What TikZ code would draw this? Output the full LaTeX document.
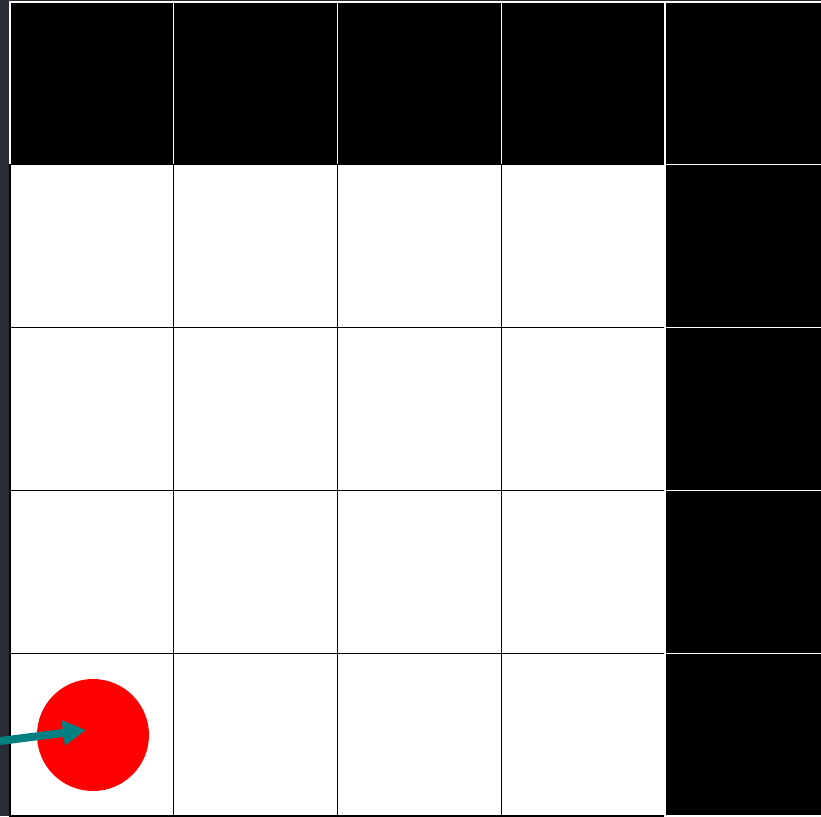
\documentclass[tikz,border=0pt]{standalone}
\usetikzlibrary{arrows.meta}
\definecolor{bgdark}{RGB}{40,44,52}
\definecolor{arrowteal}{RGB}{0,128,128}
\tikzset{
  wallcell/.style={fill=black, draw=white, line width=1.2pt},
  freecell/.style={fill=white, draw=black, line width=1.2pt},
}
\begin{document}
\begin{tikzpicture}[x=1pt, y=-1pt]
			\useasboundingbox (0, 0) rectangle (821, 816);
			\fill[bgdark] (0, 0) rectangle (821, 816);
			% grid: top row and right column are walls
			\foreach \c in {0,...,4} {
				\foreach \r in {0,...,4} {
					\pgfmathsetmacro{\xa}{10+163.75*\c}
					\pgfmathsetmacro{\ya}{2+162.8*\r}
					\ifnum\r=0
						\filldraw[wallcell] (\xa, \ya) rectangle ++(163.75, 162.8);
					\else\ifnum\c=4
						\filldraw[wallcell] (\xa, \ya) rectangle ++(163.75, 162.8);
					\else
						\filldraw[freecell] (\xa, \ya) rectangle ++(163.75, 162.8);
					\fi\fi
				}
			}
			\node[circle, fill=red, minimum size=112pt, inner sep=0pt] (agent) at (93, 735) {};
			\coordinate (start) at (0, 741);
			\draw[arrowteal, line width=8pt, -{Triangle[length=23pt, width=24pt]}] (start) -- ([xshift=-7pt, yshift=5pt]agent.center);
		\end{tikzpicture}
\end{document}
